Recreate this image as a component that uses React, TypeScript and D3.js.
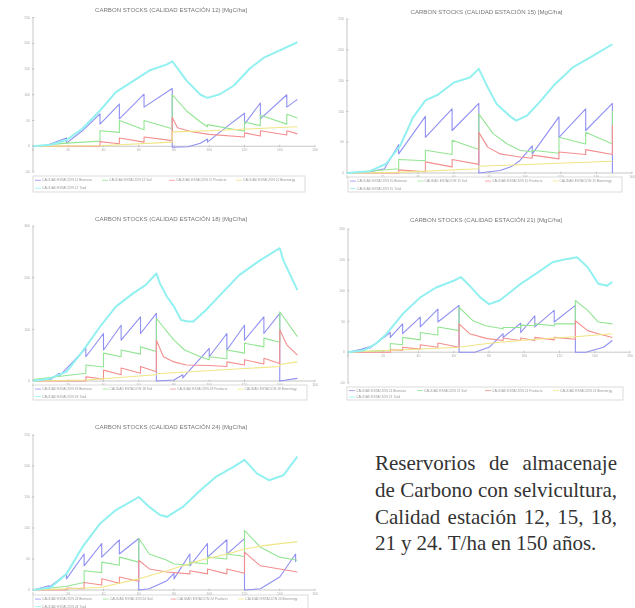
import React, { useEffect, useRef } from "react";
import * as d3 from "d3";

type Pt = [number, number];

// series order: Biomass, Soil, Products, Bioenergy, Total
const seriesNames = ["Biomass", "Soil", "Products", "Bioenergy", "Total"];
const seriesColors = ["#8f8ff4", "#93e593", "#f48f8f", "#f0e584", "#92f0f0"];
const xTicks = [0, 20, 40, 60, 80, 100, 120, 140, 160];

// Calidad estación 12
const e12Biomass: Pt[] = [[0,0],[8,2],[19,16],[19,6],[28,30],[38,63],[38,43],[49,82],[49,53],[63,101],[63,76],[79,112],[79,-2],[88,-1],[95,6],[99,14],[99,8],[110,38],[120,64],[120,43],[129,84],[129,53],[144,100],[144,76],[150,91]];
const e12Soil: Pt[] = [[0,0],[19,6],[38,10],[38,30],[49,27],[49,50],[63,32],[63,50],[79,34],[79,100],[87,69],[95,47],[99,38],[99,42],[120,29],[120,47],[129,40],[129,60],[144,43],[144,62],[150,55]];
const e12Products: Pt[] = [[0,0],[38,0],[38,9],[49,5],[49,16],[63,8],[63,18],[79,11],[79,56],[82,36],[90,28],[100,23],[120,18],[120,26],[129,20],[129,30],[144,22],[144,30],[150,24]];
const e12Bioenergy: Pt[] = [[0,0],[38,1],[79,8],[79,28],[100,30],[150,38]];
const e12Total: Pt[] = [[0,0],[10,3],[19,12],[28,34],[38,69],[47,105],[57,127],[66,147],[76,159],[79,165],[87,128],[95,100],[99,94],[106,101],[114,118],[123,151],[131,172],[140,186],[150,202]];

// Calidad estación 15
const e15Biomass: Pt[] = [[0,0],[13,2],[21,7],[29,46],[29,31],[44,92],[44,58],[59,104],[59,69],[74,113],[74,0],[86,4],[92,10],[97,20],[104,44],[104,31],[119,91],[119,58],[134,104],[134,69],[149,113],[149,0]];
const e15Soil: Pt[] = [[0,0],[29,7],[29,22],[44,20],[44,37],[59,30],[59,53],[74,38],[74,96],[82,64],[90,47],[97,37],[104,34],[104,37],[119,32],[119,58],[134,47],[134,66],[149,47],[149,101]];
const e15Products: Pt[] = [[0,0],[29,0],[29,5],[44,2],[44,18],[59,10],[59,22],[74,14],[74,66],[79,42],[86,31],[97,26],[104,24],[104,29],[119,23],[119,34],[134,30],[134,38],[149,30],[149,77]];
const e15Bioenergy: Pt[] = [[0,0],[29,1],[74,7],[74,11],[149,19]];
const e15Total: Pt[] = [[0,0],[13,3],[22,15],[30,45],[37,90],[44,118],[51,127],[60,147],[69,155],[74,169],[79,139],[84,112],[92,91],[95,85],[101,93],[109,118],[116,142],[127,172],[138,190],[149,209]];

// Calidad estación 18
const e18Biomass: Pt[] = [[0,0],[10,3],[15,15],[15,10],[30,63],[30,47],[40,92],[40,60],[50,108],[50,79],[61,124],[61,92],[70,131],[70,0],[80,2],[85,12],[85,6],[100,63],[100,47],[110,92],[110,60],[120,108],[120,79],[131,124],[131,92],[140,131],[140,0],[150,5]];
const e18Soil: Pt[] = [[0,3],[30,15],[30,31],[40,27],[40,54],[50,47],[50,60],[61,52],[61,66],[70,57],[70,121],[80,79],[86,60],[95,47],[100,41],[100,47],[110,43],[110,60],[120,54],[120,73],[131,66],[131,83],[140,75],[140,134],[150,86]];
const e18Products: Pt[] = [[0,0],[30,0],[30,8],[40,4],[40,21],[50,12],[50,25],[61,15],[61,28],[70,18],[70,79],[74,47],[80,37],[87,31],[100,30],[110,28],[110,37],[120,31],[120,41],[131,33],[131,44],[140,34],[140,99],[144,70],[150,50]];
const e18Bioenergy: Pt[] = [[0,0],[30,2],[70,12],[70,14],[140,28],[140,32],[150,37]];
const e18Total: Pt[] = [[0,0],[10,5],[19,18],[28,57],[38,105],[47,144],[57,170],[64,186],[70,208],[72,189],[76,163],[80,144],[84,118],[88,115],[91,115],[98,137],[108,173],[117,205],[129,234],[140,257],[142,234],[150,176]];

// Calidad estación 21
const e21Biomass: Pt[] = [[0,0],[8,5],[12,9],[12,6],[24,32],[24,24],[31,46],[31,30],[41,57],[41,41],[51,70],[51,49],[63,76],[63,0],[72,0],[80,8],[88,30],[88,24],[98,47],[98,32],[106,59],[106,41],[117,68],[117,49],[129,76],[129,0],[135,0],[145,8],[150,19]];
const e21Soil: Pt[] = [[0,0],[24,3],[24,14],[31,12],[31,24],[41,20],[41,32],[51,28],[51,41],[63,35],[63,73],[71,51],[78,43],[88,38],[88,40],[98,40],[98,44],[106,43],[106,46],[117,43],[117,46],[129,46],[129,84],[136,68],[142,49],[150,46]];
const e21Products: Pt[] = [[0,0],[24,0],[24,4],[31,3],[31,8],[41,5],[41,12],[51,8],[51,15],[63,8],[63,46],[69,30],[79,22],[88,19],[88,23],[98,19],[98,23],[106,19],[106,24],[117,20],[117,24],[129,21],[129,51],[136,35],[142,30],[150,24]];
const e21Bioenergy: Pt[] = [[0,0],[63,8],[79,14],[98,19],[117,23],[129,25],[150,30]];
const e21Total: Pt[] = [[0,0],[9,3],[16,14],[22,30],[31,62],[41,89],[50,105],[60,116],[64,122],[69,108],[75,89],[80,78],[86,84],[98,111],[109,132],[116,146],[122,150],[130,154],[136,138],[142,111],[147,108],[150,114]];

// Calidad estación 24
const e24Biomass: Pt[] = [[0,0],[9,7],[9,4],[19,26],[19,18],[29,58],[29,39],[39,75],[39,53],[49,81],[49,58],[60,83],[60,0],[66,2],[76,15],[80,27],[80,18],[89,58],[89,39],[99,75],[99,53],[110,81],[110,58],[120,83],[120,0],[129,2],[140,21],[149,58],[149,45]];
const e24Soil: Pt[] = [[0,0],[19,6],[29,12],[29,31],[39,28],[39,45],[49,40],[49,53],[60,45],[60,83],[66,58],[76,48],[80,42],[89,40],[89,45],[99,42],[99,53],[110,50],[110,58],[120,54],[120,96],[129,69],[140,53],[150,48]];
const e24Products: Pt[] = [[0,0],[19,0],[19,3],[29,2],[29,12],[39,8],[39,18],[49,11],[49,21],[60,14],[60,48],[66,34],[76,29],[89,26],[89,31],[99,26],[99,34],[110,26],[110,34],[120,27],[120,61],[129,39],[140,34],[150,29]];
const e24Bioenergy: Pt[] = [[0,0],[38,4],[60,18],[76,31],[95,48],[114,61],[120,66],[132,72],[150,78]];
const e24Total: Pt[] = [[0,0],[10,4],[19,26],[28,69],[38,107],[47,129],[57,145],[60,150],[66,134],[72,121],[76,118],[85,134],[95,161],[104,183],[114,199],[120,210],[127,188],[134,177],[142,185],[150,215]];

const captionLines = [
  "Reservorios de almacenaje",
  "de Carbono con selvicultura,",
  "Calidad estación 12, 15, 18,",
  "21 y 24. T/ha en 150 años.",
];

// panel layout (pixels)
const panels = [
  { station: 12, left: 33, right: 315, top: 17.5, bottom: 172, yDomain: [-50, 250], yTicks: [-50, 0, 50, 100, 150, 200, 250], titleY: 12, legend: { x: 33, y: 176, w: 272, h: 16 }, data: [e12Biomass, e12Soil, e12Products, e12Bioenergy, e12Total] },
  { station: 15, left: 347, right: 632, top: 19, bottom: 173, yDomain: [0, 250], yTicks: [0, 50, 100, 150, 200, 250], titleY: 14, legend: { x: 348, y: 177, w: 274, h: 15 }, data: [e15Biomass, e15Soil, e15Products, e15Bioenergy, e15Total] },
  { station: 18, left: 33, right: 315, top: 226, bottom: 381, yDomain: [0, 300], yTicks: [0, 100, 200, 300], titleY: 221, legend: { x: 33, y: 385, w: 274, h: 15 }, data: [e18Biomass, e18Soil, e18Products, e18Bioenergy, e18Total] },
  { station: 21, left: 348, right: 630, top: 229, bottom: 383, yDomain: [-50, 200], yTicks: [-50, 0, 50, 100, 150, 200], titleY: 222, legend: { x: 347, y: 387, w: 276, h: 13 }, data: [e21Biomass, e21Soil, e21Products, e21Bioenergy, e21Total] },
  { station: 24, left: 33, right: 315, top: 435, bottom: 590, yDomain: [0, 250], yTicks: [0, 50, 100, 150, 200, 250], titleY: 429, legend: { x: 33, y: 595, w: 275, h: 15 }, data: [e24Biomass, e24Soil, e24Products, e24Bioenergy, e24Total] },
];

const Panel = ({ p }: { p: (typeof panels)[number] }) => {
  const x = d3.scaleLinear().domain([0, 160]).range([p.left, p.right]);
  const y = d3.scaleLinear().domain(p.yDomain).range([p.bottom, p.top]);
  const line = d3
    .line<Pt>()
    .x((d) => x(d[0]))
    .y((d) => y(d[1]));
  const y0 = y(0);
  const colW = (p.legend.w - 4) / 4;
  const rowH = p.legend.h / 2;
  return (
    <g filter="url(#soft)">
      <text
        x={(p.left + p.right) / 2 - 3}
        y={p.titleY}
        textAnchor="middle"
        fontSize={5.2}
        fontFamily="Liberation Sans, Arial, sans-serif"
        fill="#777"
        textLength={152}
        lengthAdjust="spacingAndGlyphs"
      >
        {`CARBON STOCKS (CALIDAD ESTACIÓN ${p.station}) [MgC/ha]`}
      </text>
      {/* y axis */}
      <line x1={p.left} x2={p.left} y1={p.top} y2={p.bottom} stroke="#b0b0b0" strokeWidth={0.7} />
      {p.yTicks.map((t) => (
        <g key={"y" + t}>
          <line x1={p.left - 1} x2={p.left + 1.5} y1={y(t)} y2={y(t)} stroke="#b0b0b0" strokeWidth={0.6} />
          <text x={p.left - 3} y={y(t) + 1.2} textAnchor="end" fontSize={3.4} fill="#aaa" fontFamily="Liberation Sans, Arial, sans-serif">
            {t}
          </text>
        </g>
      ))}
      {/* x axis */}
      <line x1={p.left} x2={p.right} y1={y0} y2={y0} stroke="#b0b0b0" strokeWidth={0.7} />
      {xTicks.map((t) => (
        <g key={"x" + t}>
          <line x1={x(t)} x2={x(t)} y1={y0 - 1.5} y2={y0 + 1} stroke="#b0b0b0" strokeWidth={0.6} />
          <text x={x(t)} y={y0 + 5} textAnchor="middle" fontSize={3.4} fill="#aaa" fontFamily="Liberation Sans, Arial, sans-serif">
            {t}
          </text>
        </g>
      ))}
      {/* series */}
      {p.data.map((d, i) => (
        <path
          key={seriesNames[i]}
          d={line(d) || ""}
          fill="none"
          stroke={seriesColors[i]}
          strokeWidth={i === 4 ? 2 : 1.1}
          strokeLinejoin="round"
        />
      ))}
      {/* legend */}
      <rect x={p.legend.x} y={p.legend.y} width={p.legend.w} height={p.legend.h} fill="#fff" stroke="#c4c4c4" strokeWidth={0.6} />
      {seriesNames.map((s, i) => {
        const cx = p.legend.x + 2 + (i % 4) * colW;
        const cy = p.legend.y + rowH * (Math.floor(i / 4) + 0.5) + 0.3;
        return (
          <g key={"l" + s}>
            <line x1={cx} x2={cx + 6} y1={cy} y2={cy} stroke={seriesColors[i]} strokeWidth={0.8} />
            <text x={cx + 7} y={cy + 1.1} fontSize={3.3} fill="#999" fontFamily="Liberation Sans, Arial, sans-serif">
              {`CALIDAD ESTACIÓN ${p.station} ${s}`}
            </text>
          </g>
        );
      })}
    </g>
  );
};

const Caption = () => {
  const ref = useRef<SVGGElement | null>(null);
  useEffect(() => {
    const left = 375;
    const right = 617;
    const baselines = [470, 497, 523.5, 550];
    const g = d3.select(ref.current);
    g.selectAll("*").remove();
    captionLines.forEach((ln, li) => {
      const words = ln.split(" ");
      const nodes = words.map((w) =>
        g
          .append("text")
          .attr("y", baselines[li])
          .attr("font-family", "Liberation Serif, Times New Roman, serif")
          .attr("font-size", 21)
          .attr("fill", "#333")
          .text(w),
      );
      const widths = nodes.map((n) => (n.node() as SVGTextElement).getComputedTextLength());
      const total = d3.sum(widths);
      const last = li === captionLines.length - 1;
      const gap = last ? 5 : (right - left - total) / (words.length - 1);
      let cx = left;
      nodes.forEach((n, i) => {
        n.attr("x", cx);
        cx += widths[i] + gap;
      });
    });
  }, []);
  return <g ref={ref} />;
};

export default function App() {
  return (
    <svg
      width={635}
      height={608}
      style={{ position: "absolute", left: 0, top: 0, background: "#fff" }}
    >
      <defs>
        <filter id="soft" x="-5%" y="-5%" width="110%" height="110%">
          <feGaussianBlur stdDeviation={0.35} />
        </filter>
      </defs>
      {panels.map((p) => (
        <Panel key={p.station} p={p} />
      ))}
      <Caption />
    </svg>
  );
}
